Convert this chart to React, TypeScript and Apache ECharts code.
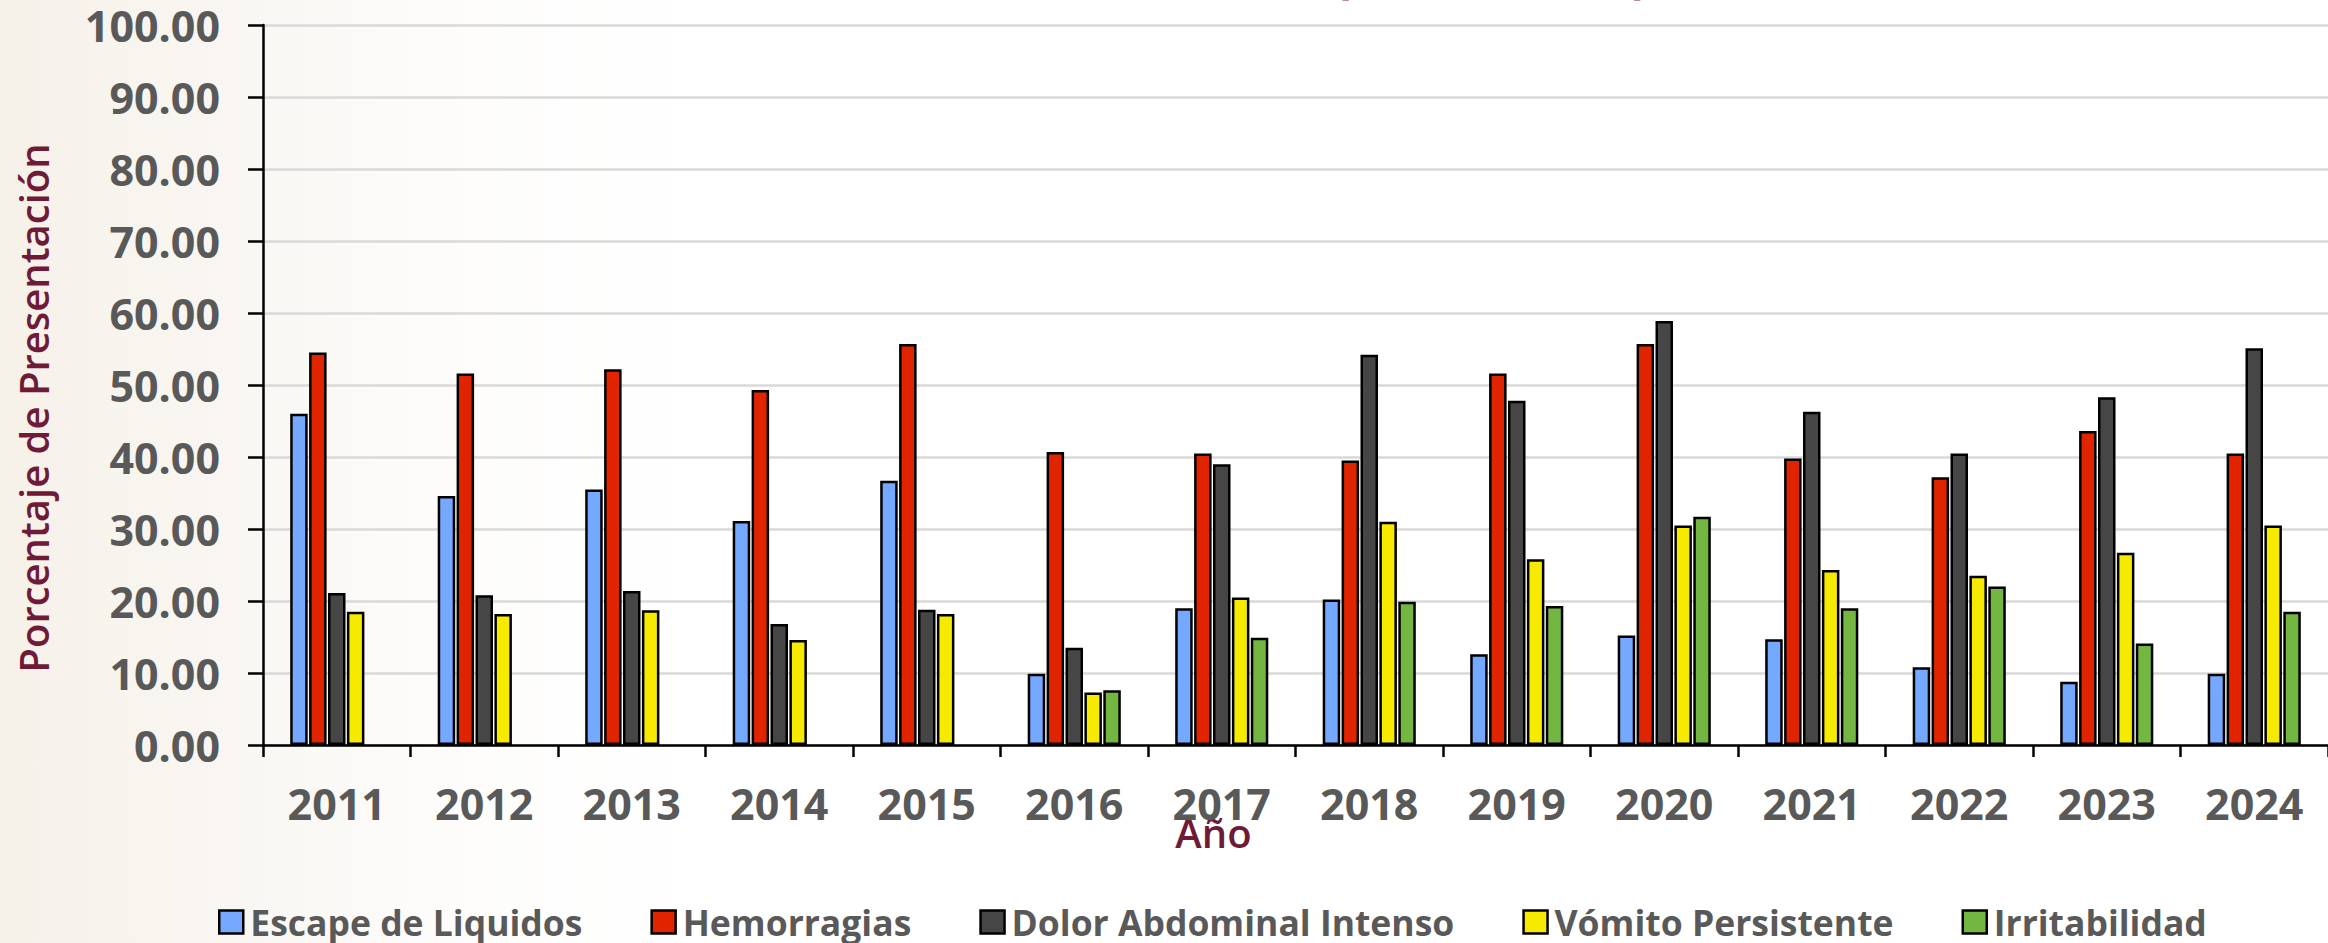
import React, { useEffect, useRef } from "react";
import * as echarts from "echarts";

const years = ["2011", "2012", "2013", "2014", "2015", "2016", "2017", "2018", "2019", "2020", "2021", "2022", "2023", "2024"];
const seriesNames = ["Escape de Liquidos", "Hemorragias", "Dolor Abdominal Intenso", "Vómito Persistente", "Irritabilidad"];
const escapeLiquidos = [46.0, 34.6, 35.5, 31.1, 36.7, 9.9, 19.0, 20.2, 12.6, 15.2, 14.7, 10.8, 8.8, 9.9];
const hemorragias = [54.5, 51.6, 52.2, 49.3, 55.7, 40.7, 40.5, 39.5, 51.6, 55.7, 39.8, 37.2, 43.6, 40.5];
const dolorAbdominal = [21.1, 20.8, 21.4, 16.8, 18.8, 13.5, 39.0, 54.2, 47.8, 58.9, 46.3, 40.5, 48.3, 55.1];
const vomitoPersistente = [18.5, 18.2, 18.7, 14.6, 18.2, 7.3, 20.5, 31.0, 25.8, 30.5, 24.3, 23.5, 26.7, 30.5];
const irritabilidad = [null, null, null, null, null, 7.6, 14.9, 19.9, 19.3, 31.7, 19.0, 22.0, 14.1, 18.5];
const colors = ["#75A8FF", "#E12400", "#464646", "#F5EA00", "#73B742"];
const yMin = 0;
const yMax = 100;
const yInterval = 10;
const titleText = "(2011 - 2024),";

export default function App() {
  const ref = useRef<HTMLDivElement>(null);
  useEffect(() => {
    document.body.style.margin = "0";
    const chart = echarts.init(ref.current!, undefined, { renderer: "svg" });
    const data = [escapeLiquidos, hemorragias, dolorAbdominal, vomitoPersistente, irritabilidad];
    const maroon = "#6F1A36";
    const gray = "#595959";
    const font = "Open Sans";
    chart.setOption({
      animation: false,
      backgroundColor: "#FFFFFF",
      graphic: [
        {
          type: "rect",
          z: -5,
          silent: true,
          shape: { x: 0, y: 0, width: 760, height: 943 },
          style: {
            fill: new echarts.graphic.LinearGradient(0, 0, 1, 0, [
              { offset: 0, color: "rgba(238,229,214,0.55)" },
              { offset: 0.35, color: "rgba(240,233,222,0.35)" },
              { offset: 1, color: "rgba(255,255,255,0)" },
            ]),
          },
        },
        {
          type: "text",
          left: 1333,
          top: -55,
          silent: true,
          style: { text: titleText, fill: maroon, font: `bold 52px "${font}"` },
        },
      ],
      legend: {
        left: 218,
        top: 904,
        itemWidth: 24,
        itemHeight: 23,
        itemGap: 68,
        padding: 0,
        icon: "rect",
        itemStyle: { borderColor: "#000", borderWidth: 2.5 },
        textStyle: { fontFamily: font, fontWeight: "bold", fontSize: 35.5, lineHeight: 34, color: gray, padding: [0, 0, 0, 2] },
        data: seriesNames,
      },
      grid: { left: 263, right: 0, top: 25, bottom: 198, containLabel: false },
      xAxis: {
        type: "category",
        data: years,
        name: "Año",
        nameLocation: "middle",
        nameGap: 72,
        nameMoveOverlap: false,
        nameTextStyle: { fontFamily: font, fontWeight: 600, fontSize: 40, lineHeight: 30, color: maroon, padding: [0, 164, 0, 0] },
        axisLine: { lineStyle: { color: "#000", width: 2.5 } },
        axisTick: { show: true, length: 12, lineStyle: { color: "#000", width: 2.5 } },
        axisLabel: { margin: 44, fontFamily: font, fontWeight: "bold", fontSize: 43, lineHeight: 28, color: gray },
      },
      yAxis: {
        type: "value",
        min: yMin,
        max: yMax,
        interval: yInterval,
        name: "Porcentaje de Presentación",
        nameLocation: "middle",
        nameGap: 210,
        nameMoveOverlap: false,
        nameTextStyle: { fontFamily: font, fontWeight: 600, fontSize: 40, lineHeight: 40, color: maroon, padding: [0, 46, 0, 0] },
        axisLine: { show: true, lineStyle: { color: "#000", width: 2.5 } },
        axisTick: { show: true, length: 15, lineStyle: { color: "#000", width: 2.5 } },
        splitLine: { lineStyle: { color: "#D9D9D9", width: 2.5 } },
        axisLabel: {
          margin: 43,
          fontFamily: font,
          fontWeight: "bold",
          fontSize: 43,
          lineHeight: 40,
          color: gray,
          formatter: (v: number) => v.toFixed(2),
        },
      },
      series: seriesNames.map((name, i) => ({
        name,
        type: "bar",
        data: data[i],
        barWidth: 17.5,
        barGap: "8%",
        itemStyle: { color: colors[i], borderColor: "#000", borderWidth: 2.5 },
      })),
    });
    return () => chart.dispose();
  }, []);
  return <div ref={ref} style={{ position: "fixed", left: 0, top: 0, width: 2328, height: 943 }} />;
}
